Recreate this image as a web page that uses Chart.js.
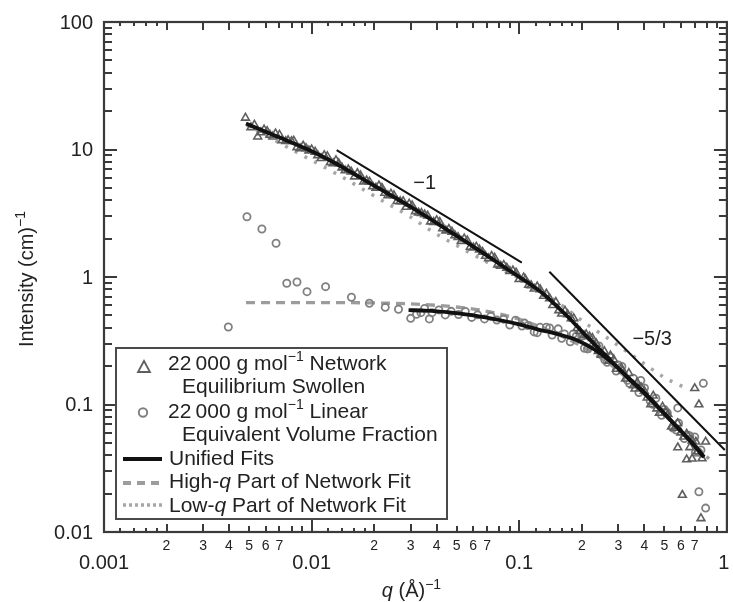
<!DOCTYPE html>
<html><head><meta charset="utf-8">
<script src="https://cdn.jsdelivr.net/npm/chart.js@4.4.1/dist/chart.umd.min.js"></script>
<style>html,body{margin:0;padding:0;background:#fff}canvas{display:block}</style>
</head><body>
<canvas id="c" width="733" height="602"></canvas>
<script>
// ---------- data ----------
const networkQ = [0.0048,0.0051,0.0055,0.0059,0.0063,0.0067,0.0072,0.0077,0.0082,0.0088,0.0094,0.0100,0.0107,0.0115,0.0123,0.0131,0.0140,0.0150,0.0161,0.0172,0.0184,0.0197,0.0211,0.0225,0.0241,0.0258,0.0276,0.0295,0.0316,0.0338,0.0362,0.0387,0.0414,0.0443,0.0474,0.0507,0.0543,0.0581,0.0621,0.0665,0.0711,0.0761,0.0814,0.0871,0.0932,0.0998,0.107,0.114,0.122,0.131,0.140,0.150,0.160,0.171,0.183,0.196,0.210,0.225,0.240,0.257,0.275,0.294,0.315,0.337,0.361,0.386,0.413,0.442,0.473,0.506,0.541,0.579,0.620,0.663,0.709,0.759,
  0.0053,0.0057,0.0061,0.0065,0.0070,0.0075,0.0080,0.0085,0.0091,0.0097,0.0104,0.0111,0.0119,0.0127,0.0135,0.0145,0.0155,0.0166,0.0178,0.0190,0.0204,0.0218,0.0233,0.0249,0.0267,0.0285,0.0305,0.0327,0.0350,0.0374,0.0400,0.0428,0.0458,0.0490,0.0525,0.0562,0.0601,0.0643,0.0688,0.0736,0.0787,0.0842,0.0901,0.0965,
  0.105,0.118,0.135,0.155,0.178,0.205,0.235,0.27,0.31,0.355,0.40,0.46,0.52,0.60,0.68,
  0.111,0.126,0.145,0.166,0.19,0.218,0.248,0.285,0.325,0.37,0.43,0.49,0.56,0.64,0.72,
  0.58,0.64,0.68,0.61,0.75,0.79,0.733,0.70];
const networkI = [17.7,14.9,12.6,14.3,13.0,13.3,11.8,11.8,11.7,10.2,10.2,9.99,8.99,8.98,7.92,8.22,7.21,6.97,6.13,6.24,5.70,5.12,5.20,4.56,4.49,3.93,3.92,3.75,3.27,3.17,3.02,2.69,2.69,2.31,2.26,2.05,2.00,1.72,1.72,1.57,1.40,1.41,1.22,1.18,1.12,0.96,0.958,0.859,0.839,0.710,0.679,0.636,0.515,0.509,0.473,0.375,0.355,0.331,0.262,0.261,0.242,0.190,0.184,0.176,0.133,0.136,0.113,0.117,0.0858,0.0875,0.0670,0.0712,0.0558,0.0461,0.0510,0.0377,
  15.6,13.6,13.9,12.6,13.0,11.6,11.6,10.4,10.7,9.80,9.58,8.54,8.82,7.79,7.77,6.84,6.69,6.51,5.58,5.58,5.00,4.99,4.37,4.36,3.92,3.54,3.63,3.19,3.09,2.72,2.78,2.40,2.37,2.12,1.91,1.93,1.70,1.64,1.46,1.46,1.25,1.24,1.11,1.08,
  0.987,0.808,0.739,0.547,0.472,0.348,0.300,0.220,0.192,0.141,0.128,0.0928,0.0838,0.0602,0.052,
  0.866,0.799,0.600,0.542,0.396,0.341,0.245,0.225,0.159,0.1485,0.1003,0.0958,0.0655,0.0589,0.0428,
  0.046,0.037,0.0375,0.0195,0.0128,0.051,0.10,0.134];

const linearQ = [0.00397,0.00488,0.00576,0.00674,0.00759,0.0085,0.0095,0.01167,0.01555,0.01897,0.02262,0.0262,0.030,0.0369,0.0336,
  0.032,0.035,0.038,0.041,0.044,0.047,0.051,0.055,0.059,0.063,0.068,0.073,0.078,0.084,0.09,0.096,0.103,0.11,0.118,0.126,0.135,0.144,0.154,0.165,0.176,0.188,0.2,0.213,0.227,0.242,0.258,0.275,0.293,0.312,0.332,0.354,0.377,0.401,0.427,0.455,0.485,0.516,0.55,0.585,0.623,0.663,0.706,0.75,
  0.106,0.122,0.14,0.16,0.182,0.206,0.234,0.265,0.3,0.34,0.385,0.44,0.5,0.57,0.65,0.73,
  0.58,0.70,0.733,0.79,0.77];
const linearI = [0.405,2.97,2.38,1.84,0.893,0.914,0.767,0.84,0.693,0.622,0.578,0.558,0.474,0.469,0.525,
  0.510,0.567,0.525,0.552,0.504,0.538,0.508,0.536,0.482,0.505,0.469,0.492,0.459,0.467,0.420,0.458,0.412,0.416,0.371,0.403,0.404,0.351,0.392,0.358,0.310,0.343,0.343,0.273,0.289,0.288,0.224,0.235,0.183,0.199,0.155,0.161,0.124,0.135,0.107,0.112,0.0823,0.0864,0.0653,0.0715,0.054,0.0567,0.0423,0.044,
  0.435,0.366,0.399,0.331,0.358,0.276,0.288,0.214,0.204,0.146,0.1546,0.1003,0.0915,0.063,0.0575,0.0422,
  0.094,0.0556,0.0207,0.0154,0.1466];

const unifiedNetQ = [0.00483,0.007,0.01,0.0132,0.02,0.03,0.04,0.055,0.07,0.09,0.1,0.115,0.133,0.155,0.18,0.21,0.25,0.275,0.33,0.4,0.48,0.575,0.68,0.775];
const unifiedNetI = [16.0,12.4,9.7,7.7,5.2,3.55,2.65,1.9,1.47,1.12,1.0,0.86,0.72,0.57,0.45,0.345,0.26,0.222,0.165,0.123,0.091,0.0667,0.05,0.0387];

const unifiedLinQ = [0.0293,0.035,0.045,0.06,0.08,0.1,0.125,0.15,0.191,0.23,0.275,0.33,0.4,0.48,0.575,0.68,0.775];
const unifiedLinI = [0.55,0.545,0.53,0.50,0.46,0.425,0.385,0.36,0.318,0.27,0.218,0.166,0.124,0.091,0.0667,0.05,0.0387];

const highQPartQ = [0.00483,0.01,0.02,0.03,0.045,0.065,0.09,0.12,0.15,0.19,0.23,0.275,0.33,0.4,0.5,0.6,0.7,0.82];
const highQPartI = [0.63,0.63,0.626,0.615,0.59,0.55,0.49,0.42,0.36,0.30,0.25,0.205,0.16,0.12,0.083,0.062,0.048,0.0375];

const lowQPartQ = [0.00486,0.008,0.0135,0.0217,0.03,0.0377,0.055,0.079,0.1137,0.16,0.21,0.275,0.37,0.5,0.62];
const lowQPartI = [15.6,10.0,6.3,4.0,2.95,2.3,1.62,1.18,0.88,0.6,0.43,0.32,0.228,0.163,0.137];

const slopeOneQ = [0.0132,0.1029];
const slopeOneI = [9.9,1.294];
const slopeFiveThirdsQ = [0.1396,0.977];
const slopeFiveThirdsI = [1.10,0.044];

const xMajorTicks = [0.001,0.01,0.1,1];
const xMajorLabels = ['0.001','0.01','0.1','1'];
const xMinorLabels = ['2','3','4','5','6','7'];
const yMajorTicks = [0.01,0.1,1,10,100];
const yMajorLabels = ['0.01','0.1','1','10','100'];

// ---------- drawing ----------
const FAM = '"Liberation Sans", Arial, Helvetica, sans-serif';
const pts = (qs, is) => qs.map((q, i) => ({x: q, y: is[i]}));

function rich(ctx, parts, x, y, align, size) {
  const f = s => s === 's' ? `${Math.round(size * 0.68)}px ${FAM}` : (s === 'i' ? `italic ${size}px ${FAM}` : `${size}px ${FAM}`);
  let w = 0;
  for (const [t, s] of parts) { ctx.font = f(s); w += ctx.measureText(t).width; }
  let cx = align === 'center' ? x - w / 2 : (align === 'right' ? x - w : x);
  ctx.textAlign = 'left'; ctx.textBaseline = 'alphabetic';
  for (const [t, s] of parts) {
    ctx.font = f(s);
    ctx.fillText(t, cx, s === 's' ? y - size * 0.42 : y);
    cx += ctx.measureText(t).width;
  }
  return w;
}

const axesPlugin = {
  id: 'axesPlugin',
  afterDraw(chart) {
    const {ctx, chartArea: a, scales: {x, y}} = chart;
    ctx.save();
    ctx.strokeStyle = '#3a3a3a';
    ctx.fillStyle = '#222';
    ctx.lineWidth = 2;
    ctx.lineCap = 'butt';
    const tick = (x1, y1, x2, y2) => { ctx.beginPath(); ctx.moveTo(x1, y1); ctx.lineTo(x2, y2); ctx.stroke(); };
    // x ticks (bottom & top)
    const xDecades = xMajorTicks.slice(0, -1);
    const xt = [];
    xMajorTicks.forEach(v => xt.push([v, 12]));
    xDecades.forEach(d => {
      [1.2, 1.4, 1.6, 1.8].forEach(m => xt.push([d * m, 4]));
      [2, 3, 4, 5, 6, 7, 8, 9].forEach(m => xt.push([d * m, m <= 4 ? 8 : 6]));
    });
    xt.forEach(([v, len]) => {
      const px = Math.round(x.getPixelForValue(v));
      tick(px, a.bottom, px, a.bottom - len);
      tick(px, a.top, px, a.top + len);
    });
    // y ticks (left & right)
    const yDecades = yMajorTicks.slice(0, -1);
    const yt = [];
    yMajorTicks.forEach(v => yt.push([v, 13]));
    yDecades.forEach(d => {
      [2, 3, 4, 5, 6, 7, 8, 9].forEach(m => yt.push([d * m, 8]));
    });
    yt.forEach(([v, len]) => {
      const py = Math.round(y.getPixelForValue(v));
      tick(a.left, py, a.left + len, py);
      tick(a.right, py, a.right - len, py);
    });
    // frame
    ctx.lineWidth = 2.2;
    ctx.strokeRect(a.left, a.top, a.right - a.left, a.bottom - a.top);

    // y labels
    ctx.font = `20px ${FAM}`;
    ctx.textAlign = 'right'; ctx.textBaseline = 'middle';
    yMajorTicks.forEach((v, i) => ctx.fillText(yMajorLabels[i], a.left - 11, y.getPixelForValue(v) + 1));
    // x labels
    ctx.textAlign = 'center';
    xMajorTicks.forEach((v, i) => {
      let px = x.getPixelForValue(v);
      if (i === xMajorTicks.length - 1) px -= 3;
      ctx.font = `20px ${FAM}`;
      ctx.fillText(xMajorLabels[i], px, a.bottom + 31);
    });
    ctx.font = `14px ${FAM}`;
    xDecades.forEach(d => {
      xMinorLabels.forEach((lab, k) => ctx.fillText(lab, x.getPixelForValue(d * (k + 2)), a.bottom + 14));
    });

    // axis titles
    rich(ctx, [['q', 'i'], [' (Å)', 'n'], ['\u22121', 's']], (a.left + a.right) / 2 - 4, 597, 'center', 20);
    ctx.save();
    ctx.translate(33, 279);
    ctx.rotate(-Math.PI / 2);
    rich(ctx, [['Intensity (cm)', 'n'], ['\u22121', 's']], 0, 0, 'center', 20);
    ctx.restore();

    // slope annotations
    ctx.font = `20px ${FAM}`;
    ctx.textAlign = 'center'; ctx.textBaseline = 'middle';
    ctx.fillText('\u22121', x.getPixelForValue(0.035), y.getPixelForValue(5.46));
    ctx.fillText('\u22125/3', x.getPixelForValue(0.4366), y.getPixelForValue(0.321));

    // legend
    const L = 116, T = 348, R = 447, B = 519;
    ctx.fillStyle = '#fff';
    ctx.fillRect(L, T, R - L, B - T);
    ctx.strokeStyle = '#4a4a4a'; ctx.lineWidth = 2;
    ctx.strokeRect(L, T, R - L, B - T);
    ctx.fillStyle = '#222';
    // triangle
    ctx.strokeStyle = '#5e5e5e'; ctx.lineWidth = 1.8;
    ctx.beginPath(); ctx.moveTo(144, 361); ctx.lineTo(150, 372); ctx.lineTo(138, 372); ctx.closePath(); ctx.stroke();
    // circle
    ctx.strokeStyle = '#808080'; ctx.lineWidth = 2;
    ctx.beginPath(); ctx.arc(143, 412.5, 4.2, 0, Math.PI * 2); ctx.stroke();
    const LS = 21;
    rich(ctx, [['22\u2009000 g mol', 'n'], ['\u22121', 's'], [' Network', 'n']], 168, 370, 'left', LS);
    rich(ctx, [['Equilibrium Swollen', 'n']], 182, 393, 'left', LS);
    rich(ctx, [['22\u2009000 g mol', 'n'], ['\u22121', 's'], [' Linear', 'n']], 168, 418, 'left', LS);
    rich(ctx, [['Equivalent Volume Fraction', 'n']], 182, 441, 'left', LS);
    // line samples
    ctx.lineWidth = 4; ctx.strokeStyle = '#111'; ctx.setLineDash([]);
    tick(123, 459, 162, 459);
    ctx.strokeStyle = '#9c9c9c'; ctx.setLineDash([8, 6]);
    tick(123, 483, 162, 483);
    ctx.strokeStyle = '#a6a6a6'; ctx.setLineDash([3, 3]); ctx.lineWidth = 3.5;
    tick(123, 505, 162, 505);
    ctx.setLineDash([]);
    rich(ctx, [['Unified Fits', 'n']], 169, 465, 'left', LS);
    rich(ctx, [['High-', 'n'], ['q', 'i'], [' Part of Network Fit', 'n']], 169, 488, 'left', LS);
    rich(ctx, [['Low-', 'n'], ['q', 'i'], [' Part of Network Fit', 'n']], 169, 512, 'left', LS);
    ctx.restore();
  }
};

const lineDs = (label, qs, is, color, width, dash, order) => ({
  label, data: pts(qs, is), showLine: true, pointRadius: 0, borderColor: color,
  borderWidth: width, borderDash: dash, cubicInterpolationMode: 'monotone', fill: false, order
});

new Chart(document.getElementById('c'), {
  type: 'scatter',
  data: {
    datasets: [
      lineDs('slope -1', slopeOneQ, slopeOneI, '#111', 2, [], 0),
      lineDs('slope -5/3', slopeFiveThirdsQ, slopeFiveThirdsI, '#111', 2, [], 0),
      lineDs('Unified Fit Network', unifiedNetQ, unifiedNetI, '#111', 3.8, [], 1),
      lineDs('Unified Fit Linear', unifiedLinQ, unifiedLinI, '#111', 3.8, [], 1),
      {label: '22 000 g mol-1 Network', data: pts(networkQ, networkI), pointStyle: 'triangle', pointRadius: 4.5,
        borderColor: '#5e5e5e', backgroundColor: 'rgba(0,0,0,0)', borderWidth: 1.6, order: 2},
      {label: '22 000 g mol-1 Linear', data: pts(linearQ, linearI), pointStyle: 'circle', pointRadius: 3.6,
        borderColor: '#808080', backgroundColor: 'rgba(0,0,0,0)', borderWidth: 1.8, order: 2},
      lineDs('High-q Part of Network Fit', highQPartQ, highQPartI, '#9c9c9c', 3.3, [9, 6], 3),
      lineDs('Low-q Part of Network Fit', lowQPartQ, lowQPartI, '#a6a6a6', 3.5, [3, 8], 3)
    ]
  },
  options: {
    responsive: false,
    animation: false,
    layout: {padding: {left: 104, top: 22, right: 3, bottom: 70}},
    plugins: {legend: {display: false}, tooltip: {enabled: false}},
    scales: {
      x: {type: 'logarithmic', min: 0.001, max: 1, display: false},
      y: {type: 'logarithmic', min: 0.01, max: 100, display: false}
    }
  },
  plugins: [axesPlugin]
});
</script></body></html>
